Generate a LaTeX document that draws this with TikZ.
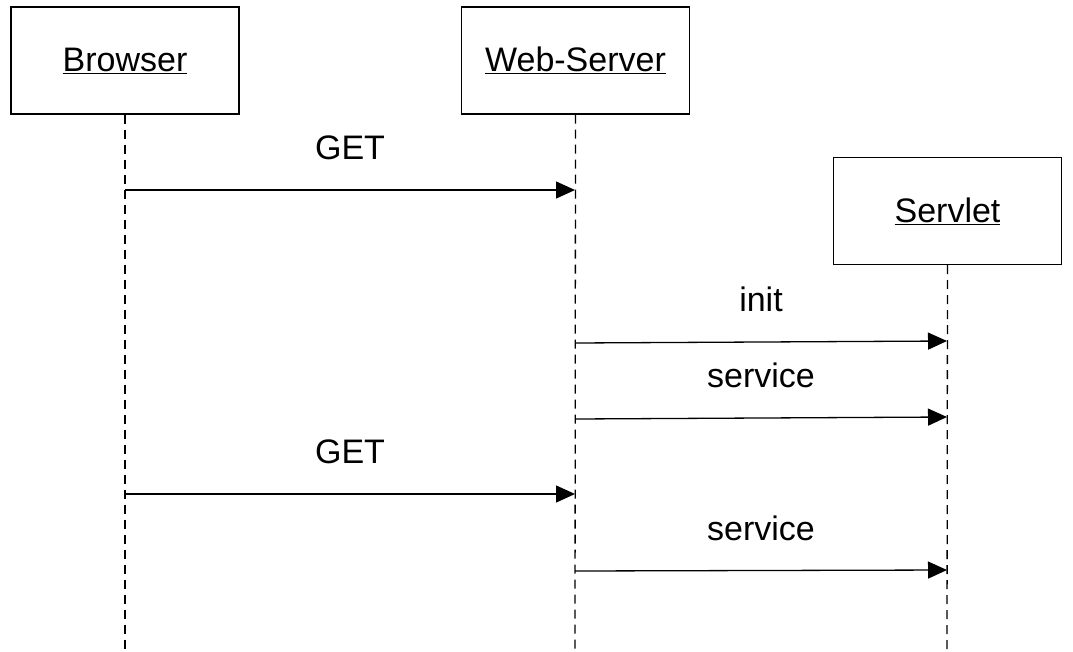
\documentclass[tikz,border=0pt]{standalone}
\usepackage{fontspec}
\setmainfont{Liberation Sans}
\usetikzlibrary{arrows.meta}
\begin{document}
\begin{tikzpicture}[x=1pt,y=-1pt,
  obj/.style={draw,line width=1.3pt,minimum width=228pt,minimum height=107pt,font=\fontsize{34}{40}\selectfont},
  life/.style={line width=1.3pt,dash pattern=on 9pt off 6pt},
  msg/.style={line width=1.3pt,-{Triangle[length=19pt,width=17pt]}},
  lbl/.style={font=\fontsize{34}{40}\selectfont}]
\useasboundingbox (0,0) rectangle (1073,651);
\node[obj] (B) at (125,60.5) {\underline{Browser}};
\node[obj] (W) at (575.5,60.5) {\underline{Web-Server}};
\node[obj] (S) at (947.5,211) {\underline{Servlet}};
\coordinate (Be) at (125,651);
\coordinate (We) at (575,651);
\coordinate (Se) at (947,651);
\draw[life] (B.south) -- (Be);
\draw[life] (W.south) -- (We);
\draw[life] (S.south) -- (Se);
\coordinate (b1) at (125,190); \coordinate (w1) at (575,190);
\coordinate (w2) at (575,343); \coordinate (s2) at (947,341);
\coordinate (w3) at (575,419); \coordinate (s3) at (947,417);
\coordinate (b4) at (125,494); \coordinate (w4) at (575,494);
\coordinate (w5) at (575,571); \coordinate (s5) at (947,570);
\draw[msg] (b1) -- (w1) node[lbl,midway,above=26pt] (l1) {GET};
\draw[msg] (w2) -- (s2) node[lbl,midway,above=26pt] (l2) {init};
\draw[msg] (w3) -- (s3) node[lbl,midway,above=26pt] (l3) {service};
\draw[msg] (b4) -- (w4) node[lbl,midway,above=26pt] (l4) {GET};
\draw[msg] (w5) -- (s5) node[lbl,midway,above=26pt] (l5) {service};
\end{tikzpicture}
\end{document}
